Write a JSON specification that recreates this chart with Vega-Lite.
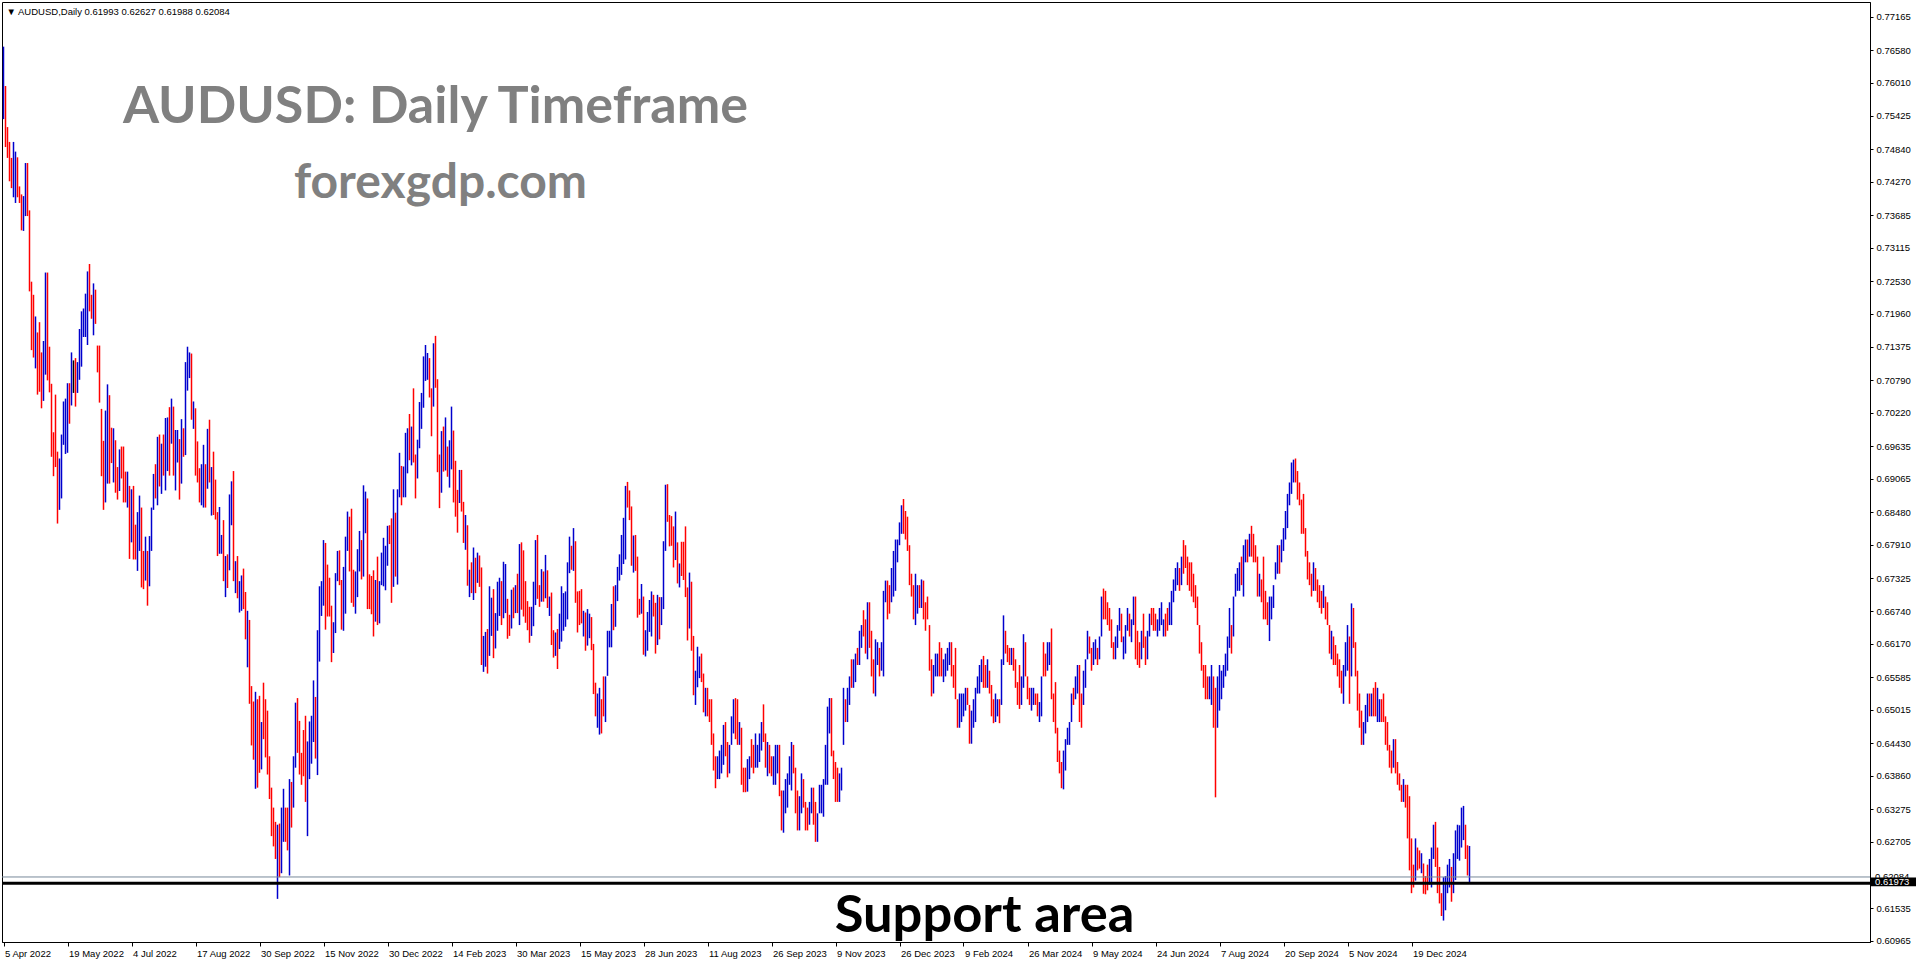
{
"$schema":"https://vega.github.io/schema/vega-lite/v6.json",
"width":1868,"height":940,
"autosize":{"type":"none"},
"padding":{"left":2,"top":2,"right":46,"bottom":22},
"background":"white",
"config":{"view":{"stroke":"#000000","strokeWidth":1},"axis":{"labelFont":"Liberation Sans","labelFontSize":9.5,"labelColor":"#000000","domainColor":"#000000","tickColor":"#000000","grid":false,"title":null,"labelOverlap":false}},
"resolve":{"axis":{"x":"independent","y":"independent"}},
"datasets":{
"bars":[
{"n":0,"o":0.7560,"h":0.7664,"l":0.7537,"c":0.7640},
{"n":1,"o":0.7590,"h":0.7595,"l":0.7488,"c":0.7495},
{"n":2,"o":0.7515,"h":0.7523,"l":0.7469,"c":0.7478},
{"n":3,"o":0.7490,"h":0.7497,"l":0.7428,"c":0.7435},
{"n":4,"o":0.7460,"h":0.7469,"l":0.7416,"c":0.7425},
{"n":5,"o":0.7410,"h":0.7497,"l":0.7400,"c":0.7490},
{"n":6,"o":0.7400,"h":0.7480,"l":0.7390,"c":0.7470},
{"n":7,"o":0.7465,"h":0.7470,"l":0.7400,"c":0.7405},
{"n":8,"o":0.7415,"h":0.7419,"l":0.7390,"c":0.7395},
{"n":9,"o":0.7400,"h":0.7405,"l":0.7342,"c":0.7348},
{"n":10,"o":0.7350,"h":0.7402,"l":0.7341,"c":0.7395},
{"n":11,"o":0.7375,"h":0.7460,"l":0.7367,"c":0.7452},
{"n":12,"o":0.7450,"h":0.7460,"l":0.7367,"c":0.7375},
{"n":13,"o":0.7370,"h":0.7377,"l":0.7235,"c":0.7242},
{"n":14,"o":0.7245,"h":0.7252,"l":0.7132,"c":0.7140},
{"n":15,"o":0.7220,"h":0.7229,"l":0.7119,"c":0.7125},
{"n":16,"o":0.7110,"h":0.7191,"l":0.7100,"c":0.7180},
{"n":17,"o":0.7155,"h":0.7163,"l":0.7054,"c":0.7060},
{"n":18,"o":0.7170,"h":0.7181,"l":0.7059,"c":0.7070},
{"n":19,"o":0.7120,"h":0.7128,"l":0.7030,"c":0.7036},
{"n":20,"o":0.7055,"h":0.7148,"l":0.7043,"c":0.7140},
{"n":21,"o":0.7098,"h":0.7268,"l":0.7089,"c":0.7260},
{"n":22,"o":0.7255,"h":0.7268,"l":0.7079,"c":0.7090},
{"n":23,"o":0.7130,"h":0.7138,"l":0.7058,"c":0.7064},
{"n":24,"o":0.7065,"h":0.7073,"l":0.6945,"c":0.6955},
{"n":25,"o":0.6980,"h":0.6988,"l":0.6911,"c":0.6918},
{"n":26,"o":0.7045,"h":0.7054,"l":0.6927,"c":0.6935},
{"n":27,"o":0.6946,"h":0.6954,"l":0.6828,"c":0.6836},
{"n":28,"o":0.6860,"h":0.6942,"l":0.6852,"c":0.6935},
{"n":29,"o":0.6880,"h":0.6984,"l":0.6872,"c":0.6976},
{"n":30,"o":0.6975,"h":0.7042,"l":0.6966,"c":0.7035},
{"n":31,"o":0.6958,"h":0.7047,"l":0.6950,"c":0.7040},
{"n":32,"o":0.6960,"h":0.7074,"l":0.6952,"c":0.7065},
{"n":33,"o":0.7066,"h":0.7074,"l":0.7003,"c":0.7010},
{"n":34,"o":0.7045,"h":0.7128,"l":0.7035,"c":0.7120},
{"n":35,"o":0.7085,"h":0.7114,"l":0.7057,"c":0.7085},
{"n":36,"o":0.7110,"h":0.7118,"l":0.7033,"c":0.7040},
{"n":37,"o":0.7064,"h":0.7111,"l":0.7057,"c":0.7104},
{"n":38,"o":0.7090,"h":0.7169,"l":0.7080,"c":0.7160},
{"n":39,"o":0.7110,"h":0.7200,"l":0.7103,"c":0.7192},
{"n":40,"o":0.7160,"h":0.7205,"l":0.7155,"c":0.7200},
{"n":41,"o":0.7162,"h":0.7231,"l":0.7155,"c":0.7224},
{"n":42,"o":0.7150,"h":0.7270,"l":0.7141,"c":0.7260},
{"n":43,"o":0.7276,"h":0.7283,"l":0.7200,"c":0.7206},
{"n":44,"o":0.7225,"h":0.7229,"l":0.7187,"c":0.7190},
{"n":45,"o":0.7165,"h":0.7249,"l":0.7158,"c":0.7242},
{"n":46,"o":0.7230,"h":0.7238,"l":0.7178,"c":0.7185},
{"n":47,"o":0.7135,"h":0.7140,"l":0.7093,"c":0.7098},
{"n":48,"o":0.7130,"h":0.7140,"l":0.7040,"c":0.7050},
{"n":49,"o":0.7020,"h":0.7029,"l":0.6911,"c":0.6918},
{"n":50,"o":0.6965,"h":0.6973,"l":0.6852,"c":0.6860},
{"n":51,"o":0.6874,"h":0.7026,"l":0.6865,"c":0.7018},
{"n":52,"o":0.6910,"h":0.7072,"l":0.6898,"c":0.7060},
{"n":53,"o":0.7045,"h":0.7053,"l":0.6898,"c":0.6905},
{"n":54,"o":0.6990,"h":0.6996,"l":0.6934,"c":0.6940},
{"n":55,"o":0.6908,"h":0.6995,"l":0.6900,"c":0.6988},
{"n":56,"o":0.6965,"h":0.6974,"l":0.6882,"c":0.6890},
{"n":57,"o":0.6922,"h":0.6927,"l":0.6870,"c":0.6876},
{"n":58,"o":0.6895,"h":0.6958,"l":0.6885,"c":0.6950},
{"n":59,"o":0.6958,"h":0.6963,"l":0.6907,"c":0.6912},
{"n":60,"o":0.6955,"h":0.6963,"l":0.6865,"c":0.6875},
{"n":61,"o":0.6914,"h":0.6919,"l":0.6865,"c":0.6870},
{"n":62,"o":0.6865,"h":0.6919,"l":0.6856,"c":0.6910},
{"n":63,"o":0.6888,"h":0.6894,"l":0.6766,"c":0.6772},
{"n":64,"o":0.6805,"h":0.6888,"l":0.6795,"c":0.6880},
{"n":65,"o":0.6886,"h":0.6894,"l":0.6765,"c":0.6772},
{"n":66,"o":0.6820,"h":0.6826,"l":0.6765,"c":0.6770},
{"n":67,"o":0.6752,"h":0.6848,"l":0.6745,"c":0.6840},
{"n":68,"o":0.6790,"h":0.6877,"l":0.6780,"c":0.6870},
{"n":69,"o":0.6848,"h":0.6856,"l":0.6716,"c":0.6722},
{"n":70,"o":0.6775,"h":0.6780,"l":0.6713,"c":0.6720},
{"n":71,"o":0.6735,"h":0.6805,"l":0.6728,"c":0.6798},
{"n":72,"o":0.6770,"h":0.6780,"l":0.6684,"c":0.6695},
{"n":73,"o":0.6725,"h":0.6806,"l":0.6718,"c":0.6800},
{"n":74,"o":0.6785,"h":0.6856,"l":0.6780,"c":0.6850},
{"n":75,"o":0.6858,"h":0.6915,"l":0.6852,"c":0.6908},
{"n":76,"o":0.6925,"h":0.6932,"l":0.6872,"c":0.6880},
{"n":77,"o":0.6868,"h":0.6980,"l":0.6860,"c":0.6972},
{"n":78,"o":0.6975,"h":0.6984,"l":0.6893,"c":0.6900},
{"n":79,"o":0.6888,"h":0.6968,"l":0.6880,"c":0.6960},
{"n":80,"o":0.6978,"h":0.6984,"l":0.6912,"c":0.6920},
{"n":81,"o":0.6895,"h":0.7013,"l":0.6886,"c":0.7005},
{"n":82,"o":0.6930,"h":0.7014,"l":0.6920,"c":0.7005},
{"n":83,"o":0.7025,"h":0.7032,"l":0.6912,"c":0.6920},
{"n":84,"o":0.6975,"h":0.7047,"l":0.6968,"c":0.7040},
{"n":85,"o":0.7025,"h":0.7033,"l":0.6912,"c":0.6920},
{"n":86,"o":0.6895,"h":0.6992,"l":0.6886,"c":0.6985},
{"n":87,"o":0.6940,"h":0.6992,"l":0.6935,"c":0.6986},
{"n":88,"o":0.6970,"h":0.6976,"l":0.6870,"c":0.6880},
{"n":89,"o":0.6905,"h":0.7011,"l":0.6898,"c":0.7004},
{"n":90,"o":0.6990,"h":0.6995,"l":0.6945,"c":0.6950},
{"n":91,"o":0.6956,"h":0.7111,"l":0.6948,"c":0.7104},
{"n":92,"o":0.7070,"h":0.7138,"l":0.7061,"c":0.7130},
{"n":93,"o":0.7088,"h":0.7128,"l":0.7083,"c":0.7122},
{"n":94,"o":0.7120,"h":0.7126,"l":0.7010,"c":0.7020},
{"n":95,"o":0.7000,"h":0.7042,"l":0.6994,"c":0.7036},
{"n":96,"o":0.7020,"h":0.7030,"l":0.6912,"c":0.6920},
{"n":97,"o":0.6966,"h":0.6972,"l":0.6900,"c":0.6906},
{"n":98,"o":0.6920,"h":0.6925,"l":0.6865,"c":0.6870},
{"n":99,"o":0.6866,"h":0.6932,"l":0.6860,"c":0.6926},
{"n":100,"o":0.6865,"h":0.6966,"l":0.6856,"c":0.6960},
{"n":101,"o":0.6926,"h":0.6932,"l":0.6856,"c":0.6862},
{"n":102,"o":0.6900,"h":0.6994,"l":0.6889,"c":0.6985},
{"n":103,"o":0.7002,"h":0.7010,"l":0.6900,"c":0.6906},
{"n":104,"o":0.6850,"h":0.6927,"l":0.6842,"c":0.6920},
{"n":105,"o":0.6946,"h":0.6954,"l":0.6843,"c":0.6850},
{"n":106,"o":0.6900,"h":0.6905,"l":0.6835,"c":0.6840},
{"n":107,"o":0.6842,"h":0.6848,"l":0.6771,"c":0.6778},
{"n":108,"o":0.6785,"h":0.6857,"l":0.6775,"c":0.6850},
{"n":109,"o":0.6778,"h":0.6808,"l":0.6775,"c":0.6804},
{"n":110,"o":0.6825,"h":0.6834,"l":0.6727,"c":0.6735},
{"n":111,"o":0.6705,"h":0.6771,"l":0.6699,"c":0.6765},
{"n":112,"o":0.6770,"h":0.6774,"l":0.6715,"c":0.6720},
{"n":113,"o":0.6754,"h":0.6879,"l":0.6746,"c":0.6872},
{"n":114,"o":0.6830,"h":0.6902,"l":0.6825,"c":0.6895},
{"n":115,"o":0.6912,"h":0.6920,"l":0.6727,"c":0.6735},
{"n":116,"o":0.6712,"h":0.6762,"l":0.6706,"c":0.6755},
{"n":117,"o":0.6765,"h":0.6771,"l":0.6697,"c":0.6703},
{"n":118,"o":0.6678,"h":0.6727,"l":0.6672,"c":0.6720},
{"n":119,"o":0.6680,"h":0.6737,"l":0.6675,"c":0.6731},
{"n":120,"o":0.6745,"h":0.6749,"l":0.6678,"c":0.6685},
{"n":121,"o":0.6702,"h":0.6708,"l":0.6625,"c":0.6632},
{"n":122,"o":0.6585,"h":0.6675,"l":0.6576,"c":0.6668},
{"n":123,"o":0.6652,"h":0.6659,"l":0.6512,"c":0.6520},
{"n":124,"o":0.6535,"h":0.6543,"l":0.6439,"c":0.6450},
{"n":125,"o":0.6510,"h":0.6516,"l":0.6414,"c":0.6420},
{"n":126,"o":0.6380,"h":0.6533,"l":0.6363,"c":0.6520},
{"n":127,"o":0.6512,"h":0.6520,"l":0.6365,"c":0.6372},
{"n":128,"o":0.6515,"h":0.6526,"l":0.6391,"c":0.6400},
{"n":129,"o":0.6404,"h":0.6480,"l":0.6397,"c":0.6472},
{"n":130,"o":0.6540,"h":0.6549,"l":0.6450,"c":0.6460},
{"n":131,"o":0.6512,"h":0.6520,"l":0.6418,"c":0.6425},
{"n":132,"o":0.6490,"h":0.6500,"l":0.6388,"c":0.6395},
{"n":133,"o":0.6414,"h":0.6420,"l":0.6345,"c":0.6352},
{"n":134,"o":0.6360,"h":0.6365,"l":0.6280,"c":0.6285},
{"n":135,"o":0.6324,"h":0.6330,"l":0.6262,"c":0.6268},
{"n":136,"o":0.6300,"h":0.6305,"l":0.6240,"c":0.6245},
{"n":137,"o":0.6185,"h":0.6300,"l":0.6170,"c":0.6290},
{"n":138,"o":0.6295,"h":0.6302,"l":0.6208,"c":0.6215},
{"n":139,"o":0.6222,"h":0.6330,"l":0.6215,"c":0.6322},
{"n":140,"o":0.6280,"h":0.6363,"l":0.6270,"c":0.6355},
{"n":141,"o":0.6325,"h":0.6330,"l":0.6270,"c":0.6276},
{"n":142,"o":0.6325,"h":0.6330,"l":0.6255,"c":0.6260},
{"n":143,"o":0.6220,"h":0.6380,"l":0.6211,"c":0.6370},
{"n":144,"o":0.6370,"h":0.6375,"l":0.6295,"c":0.6300},
{"n":145,"o":0.6338,"h":0.6420,"l":0.6330,"c":0.6412},
{"n":146,"o":0.6410,"h":0.6514,"l":0.6400,"c":0.6505},
{"n":147,"o":0.6515,"h":0.6522,"l":0.6426,"c":0.6432},
{"n":148,"o":0.6475,"h":0.6482,"l":0.6388,"c":0.6395},
{"n":149,"o":0.6420,"h":0.6426,"l":0.6370,"c":0.6376},
{"n":150,"o":0.6460,"h":0.6466,"l":0.6385,"c":0.6390},
{"n":151,"o":0.6484,"h":0.6491,"l":0.6340,"c":0.6346},
{"n":152,"o":0.6290,"h":0.6446,"l":0.6280,"c":0.6440},
{"n":153,"o":0.6388,"h":0.6481,"l":0.6380,"c":0.6474},
{"n":154,"o":0.6415,"h":0.6491,"l":0.6407,"c":0.6485},
{"n":155,"o":0.6452,"h":0.6553,"l":0.6445,"c":0.6546},
{"n":156,"o":0.6518,"h":0.6524,"l":0.6416,"c":0.6422},
{"n":157,"o":0.6395,"h":0.6641,"l":0.6387,"c":0.6632},
{"n":158,"o":0.6595,"h":0.6718,"l":0.6586,"c":0.6710},
{"n":159,"o":0.6672,"h":0.6727,"l":0.6666,"c":0.6720},
{"n":160,"o":0.6690,"h":0.6799,"l":0.6684,"c":0.6790},
{"n":161,"o":0.6785,"h":0.6794,"l":0.6642,"c":0.6650},
{"n":162,"o":0.6750,"h":0.6756,"l":0.6665,"c":0.6672},
{"n":163,"o":0.6728,"h":0.6733,"l":0.6665,"c":0.6670},
{"n":164,"o":0.6678,"h":0.6684,"l":0.6585,"c":0.6592},
{"n":165,"o":0.6606,"h":0.6655,"l":0.6601,"c":0.6650},
{"n":166,"o":0.6644,"h":0.6741,"l":0.6636,"c":0.6734},
{"n":167,"o":0.6730,"h":0.6780,"l":0.6727,"c":0.6775},
{"n":168,"o":0.6776,"h":0.6781,"l":0.6720,"c":0.6726},
{"n":169,"o":0.6722,"h":0.6729,"l":0.6642,"c":0.6650},
{"n":170,"o":0.6648,"h":0.6752,"l":0.6640,"c":0.6745},
{"n":171,"o":0.6680,"h":0.6805,"l":0.6670,"c":0.6800},
{"n":172,"o":0.6786,"h":0.6849,"l":0.6780,"c":0.6842},
{"n":173,"o":0.6834,"h":0.6840,"l":0.6744,"c":0.6750},
{"n":174,"o":0.6846,"h":0.6854,"l":0.6689,"c":0.6696},
{"n":175,"o":0.6740,"h":0.6747,"l":0.6682,"c":0.6690},
{"n":176,"o":0.6676,"h":0.6744,"l":0.6670,"c":0.6738},
{"n":177,"o":0.6705,"h":0.6783,"l":0.6699,"c":0.6775},
{"n":178,"o":0.6750,"h":0.6815,"l":0.6744,"c":0.6808},
{"n":179,"o":0.6792,"h":0.6799,"l":0.6730,"c":0.6736},
{"n":180,"o":0.6742,"h":0.6895,"l":0.6735,"c":0.6886},
{"n":181,"o":0.6818,"h":0.6884,"l":0.6811,"c":0.6878},
{"n":182,"o":0.6865,"h":0.6872,"l":0.6678,"c":0.6686},
{"n":183,"o":0.6735,"h":0.6739,"l":0.6678,"c":0.6685},
{"n":184,"o":0.6730,"h":0.6736,"l":0.6669,"c":0.6675},
{"n":185,"o":0.6740,"h":0.6746,"l":0.6630,"c":0.6640},
{"n":186,"o":0.6662,"h":0.6729,"l":0.6656,"c":0.6722},
{"n":187,"o":0.6760,"h":0.6770,"l":0.6650,"c":0.6660},
{"n":188,"o":0.6660,"h":0.6727,"l":0.6653,"c":0.6720},
{"n":189,"o":0.6725,"h":0.6777,"l":0.6720,"c":0.6770},
{"n":190,"o":0.6725,"h":0.6803,"l":0.6718,"c":0.6795},
{"n":191,"o":0.6718,"h":0.6789,"l":0.6711,"c":0.6782},
{"n":192,"o":0.6760,"h":0.6824,"l":0.6754,"c":0.6818},
{"n":193,"o":0.6822,"h":0.6825,"l":0.6792,"c":0.6796},
{"n":194,"o":0.6830,"h":0.6837,"l":0.6689,"c":0.6696},
{"n":195,"o":0.6725,"h":0.6888,"l":0.6717,"c":0.6880},
{"n":196,"o":0.6840,"h":0.6847,"l":0.6735,"c":0.6742},
{"n":197,"o":0.6730,"h":0.6888,"l":0.6721,"c":0.6880},
{"n":198,"o":0.6880,"h":0.6952,"l":0.6874,"c":0.6945},
{"n":199,"o":0.6922,"h":0.6929,"l":0.6860,"c":0.6866},
{"n":200,"o":0.6880,"h":0.6928,"l":0.6874,"c":0.6922},
{"n":201,"o":0.6885,"h":0.6987,"l":0.6874,"c":0.6980},
{"n":202,"o":0.6922,"h":0.6995,"l":0.6916,"c":0.6988},
{"n":203,"o":0.7012,"h":0.7020,"l":0.6939,"c":0.6945},
{"n":204,"o":0.6936,"h":0.6998,"l":0.6930,"c":0.6992},
{"n":205,"o":0.7055,"h":0.7065,"l":0.6935,"c":0.6945},
{"n":206,"o":0.6942,"h":0.6949,"l":0.6872,"c":0.6878},
{"n":207,"o":0.6912,"h":0.6975,"l":0.6907,"c":0.6970},
{"n":208,"o":0.6968,"h":0.7041,"l":0.6960,"c":0.7034},
{"n":209,"o":0.7000,"h":0.7057,"l":0.6994,"c":0.7050},
{"n":210,"o":0.7040,"h":0.7121,"l":0.7031,"c":0.7114},
{"n":211,"o":0.7085,"h":0.7141,"l":0.7078,"c":0.7135},
{"n":212,"o":0.7085,"h":0.7127,"l":0.7080,"c":0.7122},
{"n":213,"o":0.7110,"h":0.7118,"l":0.7049,"c":0.7055},
{"n":214,"o":0.7058,"h":0.7065,"l":0.6981,"c":0.6988},
{"n":215,"o":0.7040,"h":0.7144,"l":0.7033,"c":0.7138},
{"n":216,"o":0.7150,"h":0.7157,"l":0.7066,"c":0.7072},
{"n":217,"o":0.7072,"h":0.7081,"l":0.6918,"c":0.6926},
{"n":218,"o":0.6942,"h":0.6949,"l":0.6855,"c":0.6862},
{"n":219,"o":0.6890,"h":0.6990,"l":0.6882,"c":0.6982},
{"n":220,"o":0.6990,"h":0.6998,"l":0.6919,"c":0.6925},
{"n":221,"o":0.6930,"h":0.7014,"l":0.6921,"c":0.7006},
{"n":222,"o":0.6958,"h":0.6963,"l":0.6910,"c":0.6915},
{"n":223,"o":0.6898,"h":0.6974,"l":0.6891,"c":0.6966},
{"n":224,"o":0.6930,"h":0.7033,"l":0.6923,"c":0.7025},
{"n":225,"o":0.6984,"h":0.6991,"l":0.6865,"c":0.6872},
{"n":226,"o":0.6930,"h":0.6938,"l":0.6840,"c":0.6850},
{"n":227,"o":0.6880,"h":0.6887,"l":0.6812,"c":0.6818},
{"n":228,"o":0.6870,"h":0.6922,"l":0.6864,"c":0.6915},
{"n":229,"o":0.6915,"h":0.6922,"l":0.6849,"c":0.6855},
{"n":230,"o":0.6860,"h":0.6866,"l":0.6794,"c":0.6800},
{"n":231,"o":0.6788,"h":0.6843,"l":0.6782,"c":0.6836},
{"n":232,"o":0.6815,"h":0.6825,"l":0.6719,"c":0.6725},
{"n":233,"o":0.6704,"h":0.6747,"l":0.6699,"c":0.6742},
{"n":234,"o":0.6755,"h":0.6760,"l":0.6706,"c":0.6712},
{"n":235,"o":0.6700,"h":0.6786,"l":0.6694,"c":0.6780},
{"n":236,"o":0.6762,"h":0.6768,"l":0.6706,"c":0.6712},
{"n":237,"o":0.6730,"h":0.6777,"l":0.6724,"c":0.6772},
{"n":238,"o":0.6768,"h":0.6772,"l":0.6717,"c":0.6722},
{"n":239,"o":0.6745,"h":0.6751,"l":0.6580,"c":0.6588},
{"n":240,"o":0.6574,"h":0.6631,"l":0.6568,"c":0.6625},
{"n":241,"o":0.6582,"h":0.6638,"l":0.6577,"c":0.6632},
{"n":242,"o":0.6635,"h":0.6643,"l":0.6565,"c":0.6572},
{"n":243,"o":0.6604,"h":0.6718,"l":0.6596,"c":0.6710},
{"n":244,"o":0.6638,"h":0.6698,"l":0.6631,"c":0.6692},
{"n":245,"o":0.6705,"h":0.6713,"l":0.6592,"c":0.6600},
{"n":246,"o":0.6615,"h":0.6671,"l":0.6609,"c":0.6665},
{"n":247,"o":0.6646,"h":0.6726,"l":0.6640,"c":0.6720},
{"n":248,"o":0.6672,"h":0.6733,"l":0.6666,"c":0.6728},
{"n":249,"o":0.6720,"h":0.6727,"l":0.6650,"c":0.6656},
{"n":250,"o":0.6668,"h":0.6761,"l":0.6662,"c":0.6755},
{"n":251,"o":0.6678,"h":0.6757,"l":0.6671,"c":0.6750},
{"n":252,"o":0.6690,"h":0.6696,"l":0.6626,"c":0.6632},
{"n":253,"o":0.6665,"h":0.6668,"l":0.6631,"c":0.6635},
{"n":254,"o":0.6650,"h":0.6712,"l":0.6644,"c":0.6705},
{"n":255,"o":0.6710,"h":0.6716,"l":0.6662,"c":0.6668},
{"n":256,"o":0.6676,"h":0.6720,"l":0.6671,"c":0.6715},
{"n":257,"o":0.6734,"h":0.6740,"l":0.6671,"c":0.6676},
{"n":258,"o":0.6660,"h":0.6792,"l":0.6650,"c":0.6785},
{"n":259,"o":0.6788,"h":0.6795,"l":0.6677,"c":0.6684},
{"n":260,"o":0.6775,"h":0.6781,"l":0.6665,"c":0.6672},
{"n":261,"o":0.6720,"h":0.6727,"l":0.6654,"c":0.6660},
{"n":262,"o":0.6688,"h":0.6692,"l":0.6641,"c":0.6646},
{"n":263,"o":0.6676,"h":0.6682,"l":0.6619,"c":0.6625},
{"n":264,"o":0.6636,"h":0.6682,"l":0.6631,"c":0.6676},
{"n":265,"o":0.6654,"h":0.6726,"l":0.6648,"c":0.6720},
{"n":266,"o":0.6690,"h":0.6799,"l":0.6685,"c":0.6792},
{"n":267,"o":0.6800,"h":0.6808,"l":0.6696,"c":0.6702},
{"n":268,"o":0.6716,"h":0.6720,"l":0.6682,"c":0.6686},
{"n":269,"o":0.6696,"h":0.6748,"l":0.6691,"c":0.6742},
{"n":270,"o":0.6740,"h":0.6744,"l":0.6691,"c":0.6696},
{"n":271,"o":0.6702,"h":0.6773,"l":0.6697,"c":0.6768},
{"n":272,"o":0.6740,"h":0.6746,"l":0.6680,"c":0.6686},
{"n":273,"o":0.6670,"h":0.6700,"l":0.6666,"c":0.6696},
{"n":274,"o":0.6700,"h":0.6707,"l":0.6615,"c":0.6620},
{"n":275,"o":0.6636,"h":0.6641,"l":0.6593,"c":0.6598},
{"n":276,"o":0.6600,"h":0.6637,"l":0.6596,"c":0.6632},
{"n":277,"o":0.6638,"h":0.6643,"l":0.6573,"c":0.6578},
{"n":278,"o":0.6614,"h":0.6670,"l":0.6608,"c":0.6665},
{"n":279,"o":0.6628,"h":0.6718,"l":0.6621,"c":0.6712},
{"n":280,"o":0.6646,"h":0.6706,"l":0.6640,"c":0.6700},
{"n":281,"o":0.6652,"h":0.6709,"l":0.6647,"c":0.6703},
{"n":282,"o":0.6666,"h":0.6760,"l":0.6660,"c":0.6754},
{"n":283,"o":0.6746,"h":0.6805,"l":0.6741,"c":0.6800},
{"n":284,"o":0.6785,"h":0.6789,"l":0.6747,"c":0.6750},
{"n":285,"o":0.6750,"h":0.6820,"l":0.6745,"c":0.6814},
{"n":286,"o":0.6790,"h":0.6797,"l":0.6689,"c":0.6695},
{"n":287,"o":0.6704,"h":0.6709,"l":0.6637,"c":0.6642},
{"n":288,"o":0.6705,"h":0.6710,"l":0.6650,"c":0.6655},
{"n":289,"o":0.6708,"h":0.6713,"l":0.6653,"c":0.6658},
{"n":290,"o":0.6634,"h":0.6675,"l":0.6630,"c":0.6670},
{"n":291,"o":0.6667,"h":0.6672,"l":0.6605,"c":0.6610},
{"n":292,"o":0.6618,"h":0.6678,"l":0.6614,"c":0.6672},
{"n":293,"o":0.6630,"h":0.6670,"l":0.6627,"c":0.6666},
{"n":294,"o":0.6660,"h":0.6664,"l":0.6606,"c":0.6610},
{"n":295,"o":0.6612,"h":0.6617,"l":0.6529,"c":0.6534},
{"n":296,"o":0.6545,"h":0.6549,"l":0.6490,"c":0.6495},
{"n":297,"o":0.6475,"h":0.6530,"l":0.6470,"c":0.6525},
{"n":298,"o":0.6465,"h":0.6540,"l":0.6458,"c":0.6535},
{"n":299,"o":0.6515,"h":0.6520,"l":0.6460,"c":0.6465},
{"n":300,"o":0.6555,"h":0.6560,"l":0.6490,"c":0.6495},
{"n":301,"o":0.6486,"h":0.6560,"l":0.6480,"c":0.6555},
{"n":302,"o":0.6568,"h":0.6640,"l":0.6561,"c":0.6635},
{"n":303,"o":0.6614,"h":0.6640,"l":0.6611,"c":0.6636},
{"n":304,"o":0.6618,"h":0.6687,"l":0.6611,"c":0.6680},
{"n":305,"o":0.6712,"h":0.6718,"l":0.6641,"c":0.6646},
{"n":306,"o":0.6652,"h":0.6720,"l":0.6647,"c":0.6714},
{"n":307,"o":0.6698,"h":0.6752,"l":0.6692,"c":0.6746},
{"n":308,"o":0.6732,"h":0.6774,"l":0.6728,"c":0.6768},
{"n":309,"o":0.6744,"h":0.6808,"l":0.6738,"c":0.6802},
{"n":310,"o":0.6762,"h":0.6838,"l":0.6757,"c":0.6830},
{"n":311,"o":0.6772,"h":0.6894,"l":0.6765,"c":0.6886},
{"n":312,"o":0.6897,"h":0.6901,"l":0.6856,"c":0.6860},
{"n":313,"o":0.6880,"h":0.6886,"l":0.6834,"c":0.6838},
{"n":314,"o":0.6852,"h":0.6858,"l":0.6754,"c":0.6760},
{"n":315,"o":0.6748,"h":0.6807,"l":0.6742,"c":0.6800},
{"n":316,"o":0.6802,"h":0.6808,"l":0.6745,"c":0.6750},
{"n":317,"o":0.6765,"h":0.6770,"l":0.6663,"c":0.6670},
{"n":318,"o":0.6692,"h":0.6696,"l":0.6668,"c":0.6672},
{"n":319,"o":0.6675,"h":0.6722,"l":0.6670,"c":0.6716},
{"n":320,"o":0.6695,"h":0.6700,"l":0.6598,"c":0.6604},
{"n":321,"o":0.6600,"h":0.6641,"l":0.6595,"c":0.6636},
{"n":322,"o":0.6610,"h":0.6673,"l":0.6605,"c":0.6668},
{"n":323,"o":0.6642,"h":0.6694,"l":0.6638,"c":0.6690},
{"n":324,"o":0.6636,"h":0.6709,"l":0.6630,"c":0.6702},
{"n":325,"o":0.6698,"h":0.6703,"l":0.6665,"c":0.6670},
{"n":326,"o":0.6684,"h":0.6689,"l":0.6600,"c":0.6606},
{"n":327,"o":0.6620,"h":0.6703,"l":0.6615,"c":0.6698},
{"n":328,"o":0.6694,"h":0.6699,"l":0.6625,"c":0.6630},
{"n":329,"o":0.6655,"h":0.6699,"l":0.6650,"c":0.6694},
{"n":330,"o":0.6684,"h":0.6797,"l":0.6678,"c":0.6790},
{"n":331,"o":0.6786,"h":0.6896,"l":0.6780,"c":0.6890},
{"n":332,"o":0.6892,"h":0.6897,"l":0.6831,"c":0.6836},
{"n":333,"o":0.6838,"h":0.6843,"l":0.6788,"c":0.6792},
{"n":334,"o":0.6836,"h":0.6841,"l":0.6789,"c":0.6794},
{"n":335,"o":0.6818,"h":0.6823,"l":0.6751,"c":0.6756},
{"n":336,"o":0.6770,"h":0.6849,"l":0.6764,"c":0.6842},
{"n":337,"o":0.6790,"h":0.6795,"l":0.6723,"c":0.6728},
{"n":338,"o":0.6720,"h":0.6758,"l":0.6716,"c":0.6754},
{"n":339,"o":0.6790,"h":0.6796,"l":0.6736,"c":0.6740},
{"n":340,"o":0.6790,"h":0.6796,"l":0.6729,"c":0.6734},
{"n":341,"o":0.6815,"h":0.6823,"l":0.6699,"c":0.6705},
{"n":342,"o":0.6710,"h":0.6716,"l":0.6623,"c":0.6628},
{"n":343,"o":0.6650,"h":0.6742,"l":0.6644,"c":0.6736},
{"n":344,"o":0.6720,"h":0.6726,"l":0.6605,"c":0.6612},
{"n":345,"o":0.6625,"h":0.6631,"l":0.6527,"c":0.6533},
{"n":346,"o":0.6516,"h":0.6570,"l":0.6510,"c":0.6565},
{"n":347,"o":0.6548,"h":0.6612,"l":0.6541,"c":0.6606},
{"n":348,"o":0.6560,"h":0.6595,"l":0.6557,"c":0.6590},
{"n":349,"o":0.6596,"h":0.6600,"l":0.6550,"c":0.6554},
{"n":350,"o":0.6560,"h":0.6565,"l":0.6497,"c":0.6502},
{"n":351,"o":0.6494,"h":0.6540,"l":0.6490,"c":0.6536},
{"n":352,"o":0.6535,"h":0.6540,"l":0.6490,"c":0.6495},
{"n":353,"o":0.6516,"h":0.6520,"l":0.6480,"c":0.6484},
{"n":354,"o":0.6515,"h":0.6520,"l":0.6440,"c":0.6446},
{"n":355,"o":0.6455,"h":0.6460,"l":0.6395,"c":0.6400},
{"n":356,"o":0.6415,"h":0.6420,"l":0.6364,"c":0.6370},
{"n":357,"o":0.6384,"h":0.6420,"l":0.6380,"c":0.6416},
{"n":358,"o":0.6385,"h":0.6430,"l":0.6380,"c":0.6425},
{"n":359,"o":0.6394,"h":0.6440,"l":0.6390,"c":0.6436},
{"n":360,"o":0.6410,"h":0.6475,"l":0.6405,"c":0.6470},
{"n":361,"o":0.6476,"h":0.6480,"l":0.6420,"c":0.6424},
{"n":362,"o":0.6440,"h":0.6445,"l":0.6383,"c":0.6388},
{"n":363,"o":0.6394,"h":0.6440,"l":0.6390,"c":0.6436},
{"n":364,"o":0.6445,"h":0.6490,"l":0.6440,"c":0.6485},
{"n":365,"o":0.6464,"h":0.6520,"l":0.6460,"c":0.6516},
{"n":366,"o":0.6515,"h":0.6522,"l":0.6450,"c":0.6455},
{"n":367,"o":0.6516,"h":0.6520,"l":0.6440,"c":0.6444},
{"n":368,"o":0.6445,"h":0.6480,"l":0.6440,"c":0.6476},
{"n":369,"o":0.6466,"h":0.6470,"l":0.6370,"c":0.6374},
{"n":370,"o":0.6396,"h":0.6400,"l":0.6357,"c":0.6362},
{"n":371,"o":0.6396,"h":0.6400,"l":0.6357,"c":0.6360},
{"n":372,"o":0.6362,"h":0.6415,"l":0.6358,"c":0.6410},
{"n":373,"o":0.6384,"h":0.6420,"l":0.6380,"c":0.6416},
{"n":374,"o":0.6446,"h":0.6450,"l":0.6400,"c":0.6404},
{"n":375,"o":0.6436,"h":0.6440,"l":0.6390,"c":0.6394},
{"n":376,"o":0.6405,"h":0.6460,"l":0.6400,"c":0.6455},
{"n":377,"o":0.6404,"h":0.6440,"l":0.6400,"c":0.6436},
{"n":378,"o":0.6415,"h":0.6460,"l":0.6410,"c":0.6456},
{"n":379,"o":0.6434,"h":0.6480,"l":0.6430,"c":0.6476},
{"n":380,"o":0.6505,"h":0.6511,"l":0.6445,"c":0.6450},
{"n":381,"o":0.6456,"h":0.6460,"l":0.6400,"c":0.6404},
{"n":382,"o":0.6390,"h":0.6445,"l":0.6385,"c":0.6440},
{"n":383,"o":0.6436,"h":0.6440,"l":0.6390,"c":0.6394},
{"n":384,"o":0.6416,"h":0.6420,"l":0.6385,"c":0.6388},
{"n":385,"o":0.6374,"h":0.6420,"l":0.6370,"c":0.6416},
{"n":386,"o":0.6375,"h":0.6440,"l":0.6370,"c":0.6435},
{"n":387,"o":0.6394,"h":0.6440,"l":0.6390,"c":0.6436},
{"n":388,"o":0.6435,"h":0.6440,"l":0.6350,"c":0.6355},
{"n":389,"o":0.6356,"h":0.6360,"l":0.6290,"c":0.6294},
{"n":390,"o":0.6292,"h":0.6360,"l":0.6286,"c":0.6355},
{"n":391,"o":0.6324,"h":0.6380,"l":0.6320,"c":0.6376},
{"n":392,"o":0.6335,"h":0.6390,"l":0.6330,"c":0.6385},
{"n":393,"o":0.6374,"h":0.6420,"l":0.6370,"c":0.6416},
{"n":394,"o":0.6365,"h":0.6445,"l":0.6360,"c":0.6440},
{"n":395,"o":0.6436,"h":0.6440,"l":0.6390,"c":0.6394},
{"n":396,"o":0.6395,"h":0.6400,"l":0.6320,"c":0.6325},
{"n":397,"o":0.6356,"h":0.6360,"l":0.6290,"c":0.6294},
{"n":398,"o":0.6295,"h":0.6350,"l":0.6290,"c":0.6345},
{"n":399,"o":0.6324,"h":0.6390,"l":0.6320,"c":0.6386},
{"n":400,"o":0.6376,"h":0.6380,"l":0.6330,"c":0.6334},
{"n":401,"o":0.6336,"h":0.6340,"l":0.6290,"c":0.6294},
{"n":402,"o":0.6326,"h":0.6330,"l":0.6290,"c":0.6294},
{"n":403,"o":0.6304,"h":0.6340,"l":0.6300,"c":0.6336},
{"n":404,"o":0.6324,"h":0.6365,"l":0.6320,"c":0.6360},
{"n":405,"o":0.6360,"h":0.6365,"l":0.6300,"c":0.6304},
{"n":406,"o":0.6335,"h":0.6340,"l":0.6270,"c":0.6276},
{"n":407,"o":0.6274,"h":0.6320,"l":0.6270,"c":0.6316},
{"n":408,"o":0.6324,"h":0.6370,"l":0.6320,"c":0.6366},
{"n":409,"o":0.6324,"h":0.6370,"l":0.6320,"c":0.6366},
{"n":410,"o":0.6318,"h":0.6380,"l":0.6314,"c":0.6375},
{"n":411,"o":0.6374,"h":0.6440,"l":0.6370,"c":0.6436},
{"n":412,"o":0.6378,"h":0.6507,"l":0.6370,"c":0.6500},
{"n":413,"o":0.6464,"h":0.6522,"l":0.6460,"c":0.6518},
{"n":414,"o":0.6515,"h":0.6522,"l":0.6420,"c":0.6426},
{"n":415,"o":0.6426,"h":0.6430,"l":0.6380,"c":0.6384},
{"n":416,"o":0.6405,"h":0.6410,"l":0.6340,"c":0.6345},
{"n":417,"o":0.6396,"h":0.6400,"l":0.6340,"c":0.6344},
{"n":418,"o":0.6344,"h":0.6390,"l":0.6340,"c":0.6386},
{"n":419,"o":0.6364,"h":0.6400,"l":0.6360,"c":0.6396},
{"n":420,"o":0.6450,"h":0.6540,"l":0.6440,"c":0.6530},
{"n":421,"o":0.6516,"h":0.6520,"l":0.6480,"c":0.6484},
{"n":422,"o":0.6485,"h":0.6540,"l":0.6480,"c":0.6535},
{"n":423,"o":0.6514,"h":0.6560,"l":0.6510,"c":0.6556},
{"n":424,"o":0.6585,"h":0.6590,"l":0.6540,"c":0.6545},
{"n":425,"o":0.6544,"h":0.6590,"l":0.6540,"c":0.6586},
{"n":426,"o":0.6555,"h":0.6600,"l":0.6550,"c":0.6596},
{"n":427,"o":0.6606,"h":0.6610,"l":0.6580,"c":0.6584},
{"n":428,"o":0.6585,"h":0.6640,"l":0.6580,"c":0.6635},
{"n":429,"o":0.6614,"h":0.6650,"l":0.6610,"c":0.6646},
{"n":430,"o":0.6672,"h":0.6676,"l":0.6630,"c":0.6634},
{"n":431,"o":0.6656,"h":0.6660,"l":0.6600,"c":0.6604},
{"n":432,"o":0.6598,"h":0.6690,"l":0.6590,"c":0.6684},
{"n":433,"o":0.6686,"h":0.6690,"l":0.6610,"c":0.6614},
{"n":434,"o":0.6635,"h":0.6640,"l":0.6560,"c":0.6565},
{"n":435,"o":0.6586,"h":0.6590,"l":0.6530,"c":0.6534},
{"n":436,"o":0.6532,"h":0.6625,"l":0.6525,"c":0.6620},
{"n":437,"o":0.6584,"h":0.6620,"l":0.6580,"c":0.6616},
{"n":438,"o":0.6605,"h":0.6610,"l":0.6560,"c":0.6565},
{"n":439,"o":0.6574,"h":0.6620,"l":0.6570,"c":0.6616},
{"n":440,"o":0.6568,"h":0.6710,"l":0.6560,"c":0.6705},
{"n":441,"o":0.6694,"h":0.6728,"l":0.6690,"c":0.6724},
{"n":442,"o":0.6722,"h":0.6728,"l":0.6660,"c":0.6665},
{"n":443,"o":0.6716,"h":0.6720,"l":0.6670,"c":0.6674},
{"n":444,"o":0.6695,"h":0.6750,"l":0.6690,"c":0.6745},
{"n":445,"o":0.6704,"h":0.6780,"l":0.6700,"c":0.6776},
{"n":446,"o":0.6716,"h":0.6800,"l":0.6710,"c":0.6795},
{"n":447,"o":0.6764,"h":0.6800,"l":0.6760,"c":0.6796},
{"n":448,"o":0.6794,"h":0.6830,"l":0.6790,"c":0.6826},
{"n":449,"o":0.6814,"h":0.6860,"l":0.6810,"c":0.6856},
{"n":450,"o":0.6865,"h":0.6871,"l":0.6810,"c":0.6815},
{"n":451,"o":0.6846,"h":0.6850,"l":0.6800,"c":0.6804},
{"n":452,"o":0.6835,"h":0.6840,"l":0.6780,"c":0.6785},
{"n":453,"o":0.6786,"h":0.6790,"l":0.6720,"c":0.6724},
{"n":454,"o":0.6736,"h":0.6740,"l":0.6700,"c":0.6704},
{"n":455,"o":0.6716,"h":0.6720,"l":0.6660,"c":0.6664},
{"n":456,"o":0.6658,"h":0.6740,"l":0.6650,"c":0.6735},
{"n":457,"o":0.6674,"h":0.6720,"l":0.6670,"c":0.6716},
{"n":458,"o":0.6716,"h":0.6720,"l":0.6680,"c":0.6684},
{"n":459,"o":0.6684,"h":0.6730,"l":0.6680,"c":0.6726},
{"n":460,"o":0.6722,"h":0.6728,"l":0.6660,"c":0.6665},
{"n":461,"o":0.6686,"h":0.6690,"l":0.6640,"c":0.6644},
{"n":462,"o":0.6696,"h":0.6700,"l":0.6660,"c":0.6664},
{"n":463,"o":0.6646,"h":0.6650,"l":0.6570,"c":0.6574},
{"n":464,"o":0.6585,"h":0.6590,"l":0.6525,"c":0.6530},
{"n":465,"o":0.6534,"h":0.6580,"l":0.6530,"c":0.6576},
{"n":466,"o":0.6564,"h":0.6600,"l":0.6560,"c":0.6596},
{"n":467,"o":0.6564,"h":0.6600,"l":0.6560,"c":0.6596},
{"n":468,"o":0.6615,"h":0.6620,"l":0.6560,"c":0.6565},
{"n":469,"o":0.6606,"h":0.6610,"l":0.6560,"c":0.6564},
{"n":470,"o":0.6554,"h":0.6590,"l":0.6550,"c":0.6586},
{"n":471,"o":0.6564,"h":0.6600,"l":0.6560,"c":0.6596},
{"n":472,"o":0.6574,"h":0.6610,"l":0.6570,"c":0.6606},
{"n":473,"o":0.6584,"h":0.6620,"l":0.6580,"c":0.6616},
{"n":474,"o":0.6615,"h":0.6620,"l":0.6560,"c":0.6565},
{"n":475,"o":0.6576,"h":0.6580,"l":0.6540,"c":0.6544},
{"n":476,"o":0.6604,"h":0.6610,"l":0.6520,"c":0.6526},
{"n":477,"o":0.6516,"h":0.6520,"l":0.6470,"c":0.6474},
{"n":478,"o":0.6475,"h":0.6530,"l":0.6470,"c":0.6526},
{"n":479,"o":0.6484,"h":0.6530,"l":0.6480,"c":0.6526},
{"n":480,"o":0.6494,"h":0.6530,"l":0.6490,"c":0.6526},
{"n":481,"o":0.6504,"h":0.6540,"l":0.6500,"c":0.6536},
{"n":482,"o":0.6536,"h":0.6540,"l":0.6510,"c":0.6514},
{"n":483,"o":0.6506,"h":0.6510,"l":0.6442,"c":0.6446},
{"n":484,"o":0.6447,"h":0.6500,"l":0.6442,"c":0.6495},
{"n":485,"o":0.6474,"h":0.6520,"l":0.6470,"c":0.6516},
{"n":486,"o":0.6485,"h":0.6540,"l":0.6480,"c":0.6536},
{"n":487,"o":0.6534,"h":0.6560,"l":0.6530,"c":0.6556},
{"n":488,"o":0.6534,"h":0.6580,"l":0.6530,"c":0.6576},
{"n":489,"o":0.6554,"h":0.6590,"l":0.6550,"c":0.6586},
{"n":490,"o":0.6590,"h":0.6596,"l":0.6540,"c":0.6545},
{"n":491,"o":0.6576,"h":0.6580,"l":0.6540,"c":0.6544},
{"n":492,"o":0.6544,"h":0.6590,"l":0.6540,"c":0.6586},
{"n":493,"o":0.6566,"h":0.6570,"l":0.6530,"c":0.6534},
{"n":494,"o":0.6540,"h":0.6545,"l":0.6490,"c":0.6495},
{"n":495,"o":0.6516,"h":0.6520,"l":0.6478,"c":0.6482},
{"n":496,"o":0.6484,"h":0.6530,"l":0.6480,"c":0.6526},
{"n":497,"o":0.6494,"h":0.6520,"l":0.6490,"c":0.6516},
{"n":498,"o":0.6516,"h":0.6520,"l":0.6478,"c":0.6482},
{"n":499,"o":0.6514,"h":0.6590,"l":0.6510,"c":0.6586},
{"n":500,"o":0.6585,"h":0.6667,"l":0.6580,"c":0.6660},
{"n":501,"o":0.6636,"h":0.6640,"l":0.6600,"c":0.6604},
{"n":502,"o":0.6612,"h":0.6615,"l":0.6585,"c":0.6588},
{"n":503,"o":0.6606,"h":0.6610,"l":0.6580,"c":0.6584},
{"n":504,"o":0.6584,"h":0.6610,"l":0.6580,"c":0.6606},
{"n":505,"o":0.6606,"h":0.6610,"l":0.6570,"c":0.6574},
{"n":506,"o":0.6585,"h":0.6590,"l":0.6540,"c":0.6545},
{"n":507,"o":0.6546,"h":0.6550,"l":0.6510,"c":0.6514},
{"n":508,"o":0.6575,"h":0.6580,"l":0.6503,"c":0.6508},
{"n":509,"o":0.6514,"h":0.6560,"l":0.6510,"c":0.6556},
{"n":510,"o":0.6546,"h":0.6634,"l":0.6540,"c":0.6628},
{"n":511,"o":0.6616,"h":0.6620,"l":0.6560,"c":0.6564},
{"n":512,"o":0.6556,"h":0.6560,"l":0.6520,"c":0.6524},
{"n":513,"o":0.6536,"h":0.6540,"l":0.6510,"c":0.6514},
{"n":514,"o":0.6504,"h":0.6540,"l":0.6500,"c":0.6536},
{"n":515,"o":0.6514,"h":0.6540,"l":0.6510,"c":0.6536},
{"n":516,"o":0.6527,"h":0.6530,"l":0.6510,"c":0.6513},
{"n":517,"o":0.6526,"h":0.6530,"l":0.6490,"c":0.6494},
{"n":518,"o":0.6484,"h":0.6515,"l":0.6480,"c":0.6511},
{"n":519,"o":0.6494,"h":0.6560,"l":0.6490,"c":0.6556},
{"n":520,"o":0.6615,"h":0.6620,"l":0.6560,"c":0.6565},
{"n":521,"o":0.6596,"h":0.6600,"l":0.6560,"c":0.6564},
{"n":522,"o":0.6574,"h":0.6620,"l":0.6570,"c":0.6616},
{"n":523,"o":0.6584,"h":0.6620,"l":0.6580,"c":0.6616},
{"n":524,"o":0.6638,"h":0.6644,"l":0.6520,"c":0.6526},
{"n":525,"o":0.6526,"h":0.6530,"l":0.6480,"c":0.6484},
{"n":526,"o":0.6545,"h":0.6550,"l":0.6460,"c":0.6466},
{"n":527,"o":0.6466,"h":0.6470,"l":0.6410,"c":0.6414},
{"n":528,"o":0.6426,"h":0.6430,"l":0.6390,"c":0.6394},
{"n":529,"o":0.6406,"h":0.6410,"l":0.6364,"c":0.6368},
{"n":530,"o":0.6368,"h":0.6430,"l":0.6362,"c":0.6425},
{"n":531,"o":0.6399,"h":0.6450,"l":0.6395,"c":0.6446},
{"n":532,"o":0.6444,"h":0.6470,"l":0.6440,"c":0.6466},
{"n":533,"o":0.6444,"h":0.6480,"l":0.6440,"c":0.6476},
{"n":534,"o":0.6484,"h":0.6530,"l":0.6480,"c":0.6526},
{"n":535,"o":0.6536,"h":0.6540,"l":0.6510,"c":0.6514},
{"n":536,"o":0.6524,"h":0.6560,"l":0.6520,"c":0.6556},
{"n":537,"o":0.6534,"h":0.6580,"l":0.6530,"c":0.6576},
{"n":538,"o":0.6575,"h":0.6580,"l":0.6480,"c":0.6486},
{"n":539,"o":0.6526,"h":0.6530,"l":0.6470,"c":0.6474},
{"n":540,"o":0.6514,"h":0.6570,"l":0.6510,"c":0.6566},
{"n":541,"o":0.6544,"h":0.6590,"l":0.6540,"c":0.6586},
{"n":542,"o":0.6594,"h":0.6640,"l":0.6590,"c":0.6636},
{"n":543,"o":0.6626,"h":0.6630,"l":0.6600,"c":0.6604},
{"n":544,"o":0.6606,"h":0.6610,"l":0.6570,"c":0.6574},
{"n":545,"o":0.6584,"h":0.6620,"l":0.6580,"c":0.6616},
{"n":546,"o":0.6594,"h":0.6625,"l":0.6590,"c":0.6621},
{"n":547,"o":0.6606,"h":0.6610,"l":0.6580,"c":0.6584},
{"n":548,"o":0.6594,"h":0.6630,"l":0.6590,"c":0.6626},
{"n":549,"o":0.6634,"h":0.6700,"l":0.6630,"c":0.6696},
{"n":550,"o":0.6708,"h":0.6714,"l":0.6660,"c":0.6665},
{"n":551,"o":0.6706,"h":0.6710,"l":0.6660,"c":0.6664},
{"n":552,"o":0.6686,"h":0.6690,"l":0.6650,"c":0.6654},
{"n":553,"o":0.6676,"h":0.6680,"l":0.6640,"c":0.6644},
{"n":554,"o":0.6656,"h":0.6660,"l":0.6610,"c":0.6614},
{"n":555,"o":0.6616,"h":0.6620,"l":0.6590,"c":0.6594},
{"n":556,"o":0.6594,"h":0.6630,"l":0.6590,"c":0.6626},
{"n":557,"o":0.6614,"h":0.6650,"l":0.6610,"c":0.6646},
{"n":558,"o":0.6644,"h":0.6680,"l":0.6640,"c":0.6676},
{"n":559,"o":0.6666,"h":0.6670,"l":0.6620,"c":0.6624},
{"n":560,"o":0.6594,"h":0.6630,"l":0.6590,"c":0.6626},
{"n":561,"o":0.6604,"h":0.6650,"l":0.6600,"c":0.6646},
{"n":562,"o":0.6644,"h":0.6680,"l":0.6640,"c":0.6676},
{"n":563,"o":0.6666,"h":0.6670,"l":0.6630,"c":0.6634},
{"n":564,"o":0.6624,"h":0.6660,"l":0.6620,"c":0.6656},
{"n":565,"o":0.6654,"h":0.6700,"l":0.6650,"c":0.6696},
{"n":566,"o":0.6695,"h":0.6700,"l":0.6590,"c":0.6596},
{"n":567,"o":0.6636,"h":0.6640,"l":0.6580,"c":0.6584},
{"n":568,"o":0.6616,"h":0.6620,"l":0.6575,"c":0.6580},
{"n":569,"o":0.6594,"h":0.6640,"l":0.6590,"c":0.6636},
{"n":570,"o":0.6665,"h":0.6670,"l":0.6610,"c":0.6615},
{"n":571,"o":0.6626,"h":0.6630,"l":0.6580,"c":0.6584},
{"n":572,"o":0.6594,"h":0.6640,"l":0.6590,"c":0.6636},
{"n":573,"o":0.6634,"h":0.6670,"l":0.6630,"c":0.6666},
{"n":574,"o":0.6676,"h":0.6680,"l":0.6650,"c":0.6654},
{"n":575,"o":0.6676,"h":0.6680,"l":0.6640,"c":0.6644},
{"n":576,"o":0.6666,"h":0.6670,"l":0.6640,"c":0.6644},
{"n":577,"o":0.6634,"h":0.6660,"l":0.6630,"c":0.6656},
{"n":578,"o":0.6644,"h":0.6680,"l":0.6640,"c":0.6676},
{"n":579,"o":0.6654,"h":0.6690,"l":0.6650,"c":0.6686},
{"n":580,"o":0.6634,"h":0.6660,"l":0.6630,"c":0.6656},
{"n":581,"o":0.6666,"h":0.6670,"l":0.6630,"c":0.6634},
{"n":582,"o":0.6676,"h":0.6680,"l":0.6640,"c":0.6644},
{"n":583,"o":0.6654,"h":0.6690,"l":0.6650,"c":0.6686},
{"n":584,"o":0.6654,"h":0.6710,"l":0.6650,"c":0.6706},
{"n":585,"o":0.6694,"h":0.6730,"l":0.6690,"c":0.6726},
{"n":586,"o":0.6714,"h":0.6750,"l":0.6710,"c":0.6746},
{"n":587,"o":0.6724,"h":0.6760,"l":0.6720,"c":0.6756},
{"n":588,"o":0.6746,"h":0.6750,"l":0.6710,"c":0.6714},
{"n":589,"o":0.6724,"h":0.6770,"l":0.6720,"c":0.6766},
{"n":590,"o":0.6794,"h":0.6799,"l":0.6740,"c":0.6745},
{"n":591,"o":0.6786,"h":0.6790,"l":0.6750,"c":0.6754},
{"n":592,"o":0.6766,"h":0.6770,"l":0.6720,"c":0.6724},
{"n":593,"o":0.6756,"h":0.6760,"l":0.6710,"c":0.6714},
{"n":594,"o":0.6755,"h":0.6760,"l":0.6700,"c":0.6705},
{"n":595,"o":0.6736,"h":0.6740,"l":0.6690,"c":0.6694},
{"n":596,"o":0.6716,"h":0.6720,"l":0.6680,"c":0.6684},
{"n":597,"o":0.6696,"h":0.6700,"l":0.6650,"c":0.6654},
{"n":598,"o":0.6646,"h":0.6650,"l":0.6600,"c":0.6604},
{"n":599,"o":0.6616,"h":0.6620,"l":0.6570,"c":0.6574},
{"n":600,"o":0.6576,"h":0.6580,"l":0.6540,"c":0.6544},
{"n":601,"o":0.6576,"h":0.6580,"l":0.6520,"c":0.6524},
{"n":602,"o":0.6556,"h":0.6560,"l":0.6520,"c":0.6524},
{"n":603,"o":0.6524,"h":0.6560,"l":0.6520,"c":0.6556},
{"n":604,"o":0.6515,"h":0.6580,"l":0.6510,"c":0.6575},
{"n":605,"o":0.6556,"h":0.6560,"l":0.6470,"c":0.6474},
{"n":606,"o":0.6530,"h":0.6540,"l":0.6348,"c":0.6490},
{"n":607,"o":0.6476,"h":0.6560,"l":0.6470,"c":0.6556},
{"n":608,"o":0.6505,"h":0.6580,"l":0.6500,"c":0.6575},
{"n":609,"o":0.6524,"h":0.6570,"l":0.6520,"c":0.6566},
{"n":610,"o":0.6544,"h":0.6580,"l":0.6540,"c":0.6576},
{"n":611,"o":0.6564,"h":0.6600,"l":0.6560,"c":0.6596},
{"n":612,"o":0.6574,"h":0.6630,"l":0.6570,"c":0.6626},
{"n":613,"o":0.6614,"h":0.6680,"l":0.6610,"c":0.6676},
{"n":614,"o":0.6646,"h":0.6650,"l":0.6600,"c":0.6604},
{"n":615,"o":0.6634,"h":0.6700,"l":0.6630,"c":0.6696},
{"n":616,"o":0.6704,"h":0.6740,"l":0.6700,"c":0.6736},
{"n":617,"o":0.6714,"h":0.6750,"l":0.6710,"c":0.6746},
{"n":618,"o":0.6714,"h":0.6760,"l":0.6710,"c":0.6756},
{"n":619,"o":0.6766,"h":0.6770,"l":0.6720,"c":0.6724},
{"n":620,"o":0.6706,"h":0.6790,"l":0.6700,"c":0.6785},
{"n":621,"o":0.6764,"h":0.6800,"l":0.6760,"c":0.6796},
{"n":622,"o":0.6796,"h":0.6800,"l":0.6760,"c":0.6764},
{"n":623,"o":0.6774,"h":0.6810,"l":0.6770,"c":0.6806},
{"n":624,"o":0.6818,"h":0.6824,"l":0.6770,"c":0.6775},
{"n":625,"o":0.6806,"h":0.6810,"l":0.6760,"c":0.6764},
{"n":626,"o":0.6786,"h":0.6790,"l":0.6760,"c":0.6764},
{"n":627,"o":0.6766,"h":0.6770,"l":0.6700,"c":0.6704},
{"n":628,"o":0.6704,"h":0.6740,"l":0.6700,"c":0.6736},
{"n":629,"o":0.6726,"h":0.6730,"l":0.6690,"c":0.6694},
{"n":630,"o":0.6765,"h":0.6770,"l":0.6660,"c":0.6666},
{"n":631,"o":0.6706,"h":0.6710,"l":0.6660,"c":0.6664},
{"n":632,"o":0.6686,"h":0.6690,"l":0.6650,"c":0.6654},
{"n":633,"o":0.6626,"h":0.6700,"l":0.6622,"c":0.6696},
{"n":634,"o":0.6664,"h":0.6700,"l":0.6660,"c":0.6696},
{"n":635,"o":0.6684,"h":0.6720,"l":0.6680,"c":0.6716},
{"n":636,"o":0.6734,"h":0.6760,"l":0.6730,"c":0.6756},
{"n":637,"o":0.6744,"h":0.6790,"l":0.6740,"c":0.6786},
{"n":638,"o":0.6786,"h":0.6790,"l":0.6740,"c":0.6744},
{"n":639,"o":0.6764,"h":0.6800,"l":0.6760,"c":0.6796},
{"n":640,"o":0.6784,"h":0.6820,"l":0.6780,"c":0.6816},
{"n":641,"o":0.6804,"h":0.6850,"l":0.6800,"c":0.6846},
{"n":642,"o":0.6824,"h":0.6880,"l":0.6820,"c":0.6876},
{"n":643,"o":0.6864,"h":0.6900,"l":0.6860,"c":0.6896},
{"n":644,"o":0.6884,"h":0.6935,"l":0.6880,"c":0.6930},
{"n":645,"o":0.6904,"h":0.6940,"l":0.6900,"c":0.6936},
{"n":646,"o":0.6938,"h":0.6942,"l":0.6900,"c":0.6904},
{"n":647,"o":0.6916,"h":0.6920,"l":0.6870,"c":0.6874},
{"n":648,"o":0.6896,"h":0.6900,"l":0.6860,"c":0.6864},
{"n":649,"o":0.6866,"h":0.6870,"l":0.6810,"c":0.6814},
{"n":650,"o":0.6875,"h":0.6880,"l":0.6810,"c":0.6815},
{"n":651,"o":0.6816,"h":0.6820,"l":0.6770,"c":0.6774},
{"n":652,"o":0.6776,"h":0.6780,"l":0.6730,"c":0.6734},
{"n":653,"o":0.6756,"h":0.6760,"l":0.6720,"c":0.6724},
{"n":654,"o":0.6736,"h":0.6740,"l":0.6700,"c":0.6704},
{"n":655,"o":0.6714,"h":0.6760,"l":0.6710,"c":0.6756},
{"n":656,"o":0.6746,"h":0.6750,"l":0.6710,"c":0.6714},
{"n":657,"o":0.6726,"h":0.6730,"l":0.6690,"c":0.6694},
{"n":658,"o":0.6716,"h":0.6720,"l":0.6680,"c":0.6684},
{"n":659,"o":0.6706,"h":0.6710,"l":0.6670,"c":0.6674},
{"n":660,"o":0.6684,"h":0.6720,"l":0.6680,"c":0.6716},
{"n":661,"o":0.6696,"h":0.6700,"l":0.6660,"c":0.6664},
{"n":662,"o":0.6686,"h":0.6690,"l":0.6650,"c":0.6654},
{"n":663,"o":0.6646,"h":0.6650,"l":0.6600,"c":0.6604},
{"n":664,"o":0.6594,"h":0.6640,"l":0.6590,"c":0.6636},
{"n":665,"o":0.6626,"h":0.6630,"l":0.6580,"c":0.6584},
{"n":666,"o":0.6611,"h":0.6615,"l":0.6580,"c":0.6584},
{"n":667,"o":0.6596,"h":0.6600,"l":0.6560,"c":0.6564},
{"n":668,"o":0.6586,"h":0.6590,"l":0.6540,"c":0.6544},
{"n":669,"o":0.6566,"h":0.6570,"l":0.6530,"c":0.6534},
{"n":670,"o":0.6518,"h":0.6580,"l":0.6512,"c":0.6575},
{"n":671,"o":0.6564,"h":0.6620,"l":0.6560,"c":0.6616},
{"n":672,"o":0.6575,"h":0.6650,"l":0.6570,"c":0.6645},
{"n":673,"o":0.6626,"h":0.6630,"l":0.6512,"c":0.6518},
{"n":674,"o":0.6566,"h":0.6688,"l":0.6560,"c":0.6682},
{"n":675,"o":0.6676,"h":0.6680,"l":0.6610,"c":0.6614},
{"n":676,"o":0.6615,"h":0.6620,"l":0.6560,"c":0.6565},
{"n":677,"o":0.6566,"h":0.6570,"l":0.6500,"c":0.6504},
{"n":678,"o":0.6525,"h":0.6530,"l":0.6470,"c":0.6475},
{"n":679,"o":0.6496,"h":0.6500,"l":0.6440,"c":0.6444},
{"n":680,"o":0.6444,"h":0.6480,"l":0.6440,"c":0.6476},
{"n":681,"o":0.6464,"h":0.6510,"l":0.6460,"c":0.6506},
{"n":682,"o":0.6484,"h":0.6530,"l":0.6480,"c":0.6526},
{"n":683,"o":0.6526,"h":0.6530,"l":0.6490,"c":0.6494},
{"n":684,"o":0.6494,"h":0.6530,"l":0.6490,"c":0.6526},
{"n":685,"o":0.6536,"h":0.6540,"l":0.6490,"c":0.6494},
{"n":686,"o":0.6545,"h":0.6550,"l":0.6490,"c":0.6495},
{"n":687,"o":0.6484,"h":0.6540,"l":0.6480,"c":0.6536},
{"n":688,"o":0.6484,"h":0.6520,"l":0.6480,"c":0.6516},
{"n":689,"o":0.6516,"h":0.6520,"l":0.6480,"c":0.6484},
{"n":690,"o":0.6526,"h":0.6530,"l":0.6480,"c":0.6484},
{"n":691,"o":0.6486,"h":0.6490,"l":0.6440,"c":0.6444},
{"n":692,"o":0.6476,"h":0.6480,"l":0.6430,"c":0.6434},
{"n":693,"o":0.6436,"h":0.6440,"l":0.6400,"c":0.6404},
{"n":694,"o":0.6426,"h":0.6430,"l":0.6390,"c":0.6394},
{"n":695,"o":0.6404,"h":0.6450,"l":0.6400,"c":0.6446},
{"n":696,"o":0.6446,"h":0.6450,"l":0.6390,"c":0.6394},
{"n":697,"o":0.6406,"h":0.6410,"l":0.6370,"c":0.6374},
{"n":698,"o":0.6386,"h":0.6390,"l":0.6360,"c":0.6364},
{"n":699,"o":0.6366,"h":0.6370,"l":0.6340,"c":0.6344},
{"n":700,"o":0.6344,"h":0.6380,"l":0.6340,"c":0.6376},
{"n":701,"o":0.6366,"h":0.6370,"l":0.6330,"c":0.6334},
{"n":702,"o":0.6365,"h":0.6370,"l":0.6276,"c":0.6282},
{"n":703,"o":0.6345,"h":0.6350,"l":0.6220,"c":0.6226},
{"n":704,"o":0.6270,"h":0.6276,"l":0.6180,"c":0.6190},
{"n":705,"o":0.6226,"h":0.6230,"l":0.6190,"c":0.6194},
{"n":706,"o":0.6208,"h":0.6276,"l":0.6202,"c":0.6270},
{"n":707,"o":0.6256,"h":0.6260,"l":0.6220,"c":0.6224},
{"n":708,"o":0.6252,"h":0.6255,"l":0.6223,"c":0.6226},
{"n":709,"o":0.6218,"h":0.6250,"l":0.6215,"c":0.6246},
{"n":710,"o":0.6228,"h":0.6232,"l":0.6179,"c":0.6184},
{"n":711,"o":0.6206,"h":0.6210,"l":0.6178,"c":0.6182},
{"n":712,"o":0.6226,"h":0.6230,"l":0.6185,"c":0.6190},
{"n":713,"o":0.6198,"h":0.6240,"l":0.6195,"c":0.6236},
{"n":714,"o":0.6195,"h":0.6260,"l":0.6190,"c":0.6255},
{"n":715,"o":0.6244,"h":0.6300,"l":0.6240,"c":0.6296},
{"n":716,"o":0.6298,"h":0.6305,"l":0.6226,"c":0.6232},
{"n":717,"o":0.6256,"h":0.6260,"l":0.6180,"c":0.6184},
{"n":718,"o":0.6222,"h":0.6226,"l":0.6162,"c":0.6166},
{"n":719,"o":0.6176,"h":0.6180,"l":0.6140,"c":0.6144},
{"n":720,"o":0.6138,"h":0.6208,"l":0.6132,"c":0.6202},
{"n":721,"o":0.6154,"h":0.6210,"l":0.6150,"c":0.6206},
{"n":722,"o":0.6184,"h":0.6230,"l":0.6180,"c":0.6226},
{"n":723,"o":0.6194,"h":0.6240,"l":0.6190,"c":0.6236},
{"n":724,"o":0.6222,"h":0.6226,"l":0.6165,"c":0.6170},
{"n":725,"o":0.6184,"h":0.6250,"l":0.6180,"c":0.6246},
{"n":726,"o":0.6208,"h":0.6290,"l":0.6203,"c":0.6285},
{"n":727,"o":0.6244,"h":0.6300,"l":0.6240,"c":0.6296},
{"n":728,"o":0.6242,"h":0.6299,"l":0.6237,"c":0.6294},
{"n":729,"o":0.6264,"h":0.6330,"l":0.6260,"c":0.6326},
{"n":730,"o":0.6278,"h":0.6333,"l":0.6273,"c":0.6328},
{"n":731,"o":0.6296,"h":0.6300,"l":0.6240,"c":0.6244},
{"n":732,"o":0.6260,"h":0.6264,"l":0.6211,"c":0.6215},
{"n":733,"o":0.61993,"h":0.62627,"l":0.61988,"c":0.62084}
],
"levels":[
{"kind":"bid","p":0.62084},
{"kind":"support","p":0.61973}
],
"notes":[
{"kind":"info","n":1.5,"p":0.77247,"label":"▼ AUDUSD,Daily 0.61993 0.62627 0.61988 0.62084"},
{"kind":"title","n":216,"p":0.75309,"label":"AUDUSD: Daily Timeframe"},
{"kind":"site","n":218.5,"p":0.73992,"label":"forexgdp.com"},
{"kind":"support","n":490.5,"p":0.61120,"label":"Support area"}
],
"tags":[
{"kind":"bid","n":933.25,"n2":933.25,"p":0.62084,"p1":0.62160,"p2":0.62010,"label":"0.62084"},
{"kind":"support","n":933.25,"n2":933.25,"p":0.61997,"p1":0.62073,"p2":0.61921,"label":"0.61973"}
]
},
"layer":[
{"data":{"name":"bars"},
 "mark":{"type":"rule","strokeWidth":1.5},
 "encoding":{
  "x":{"field":"n","type":"quantitative","scale":{"domain":[-0.75,933.25],"nice":false,"zero":false},
       "axis":{"values":[0,32,64,96,128,160,192,224,256,288,320,352,384,416,448,480,512,544,576,608,640,672,704],
               "labelExpr":"['5 Apr 2022','19 May 2022','4 Jul 2022','17 Aug 2022','30 Sep 2022','15 Nov 2022','30 Dec 2022','14 Feb 2023','30 Mar 2023','15 May 2023','28 Jun 2023','11 Aug 2023','26 Sep 2023','9 Nov 2023','26 Dec 2023','9 Feb 2024','26 Mar 2024','9 May 2024','24 Jun 2024','7 Aug 2024','20 Sep 2024','5 Nov 2024','19 Dec 2024'][round(datum.value/32)]",
               "labelAlign":"left","labelBaseline":"top","tickSize":4,"labelPadding":2,"labelOffset":1,"labelOverlap":false,"labelFlush":false,"labelBound":false}},
  "y":{"field":"l","type":"quantitative","scale":{"domain":[0.60944,0.77423],"nice":false,"zero":false},
       "axis":{"orient":"right","values":[0.77165,0.7658,0.7601,0.75425,0.7484,0.7427,0.73685,0.73115,0.7253,0.7196,0.71375,0.7079,0.7022,0.69635,0.69065,0.6848,0.6791,0.67325,0.6674,0.6617,0.65585,0.65015,0.6443,0.6386,0.63275,0.62705,0.61535,0.60965],
               "format":".5f","tickSize":3,"labelPadding":3,"labelOverlap":false,"labelFlush":false,"labelBound":false}},
  "y2":{"field":"h"},
  "stroke":{"condition":[{"test":"datum.c > datum.o","value":"#0000CD"},{"test":"datum.c < datum.o","value":"#FF0000"}],"value":"#000000"}
 }},
{"data":{"name":"levels"},"transform":[{"filter":"datum.kind === 'bid'"}],
 "mark":{"type":"rule","stroke":"#778899","strokeWidth":1},
 "encoding":{"y":{"field":"p","type":"quantitative","axis":null}}},
{"data":{"name":"levels"},"transform":[{"filter":"datum.kind === 'support'"}],
 "mark":{"type":"rule","stroke":"#000000","strokeWidth":3},
 "encoding":{"y":{"field":"p","type":"quantitative","axis":null}}},
{"data":{"name":"tags"},"transform":[{"filter":"datum.kind === 'bid'"}],
 "mark":{"type":"text","font":"Liberation Sans","fontSize":9.5,"fill":"#000000","align":"left","baseline":"middle","dx":5},
 "encoding":{"x":{"field":"n","type":"quantitative","axis":null},"y":{"field":"p","type":"quantitative","axis":null},"text":{"field":"label"}}},
{"data":{"name":"tags"},"transform":[{"filter":"datum.kind === 'support'"}],
 "mark":{"type":"rect","fill":"#000000","xOffset":1,"x2Offset":46},
 "encoding":{"x":{"field":"n","type":"quantitative","axis":null},"x2":{"field":"n2"},"y":{"field":"p1","type":"quantitative","axis":null},"y2":{"field":"p2"}}},
{"data":{"name":"tags"},"transform":[{"filter":"datum.kind === 'support'"}],
 "mark":{"type":"text","font":"Liberation Sans","fontSize":9.5,"fill":"#FFFFFF","align":"left","baseline":"middle","dx":5},
 "encoding":{"x":{"field":"n","type":"quantitative","axis":null},"y":{"field":"p","type":"quantitative","axis":null},"text":{"field":"label"}}},
{"data":{"name":"notes"},"transform":[{"filter":"datum.kind === 'info'"}],
 "mark":{"type":"text","font":"Liberation Sans","fontSize":9.5,"fill":"#000000","align":"left","baseline":"middle"},
 "encoding":{"x":{"field":"n","type":"quantitative","axis":null},"y":{"field":"p","type":"quantitative","axis":null},"text":{"field":"label"}}},
{"data":{"name":"notes"},"transform":[{"filter":"datum.kind === 'title'"}],
 "mark":{"type":"text","font":"Lato","fontWeight":"bold","fontSize":52,"fill":"#808080","align":"center","baseline":"alphabetic"},
 "encoding":{"x":{"field":"n","type":"quantitative","axis":null},"y":{"field":"p","type":"quantitative","axis":null},"text":{"field":"label"}}},
{"data":{"name":"notes"},"transform":[{"filter":"datum.kind === 'site'"}],
 "mark":{"type":"text","font":"Lato","fontWeight":"bold","fontSize":48,"fill":"#808080","align":"center","baseline":"alphabetic"},
 "encoding":{"x":{"field":"n","type":"quantitative","axis":null},"y":{"field":"p","type":"quantitative","axis":null},"text":{"field":"label"}}},
{"data":{"name":"notes"},"transform":[{"filter":"datum.kind === 'support'"}],
 "mark":{"type":"text","font":"Lato","fontWeight":"bold","fontSize":52.5,"fill":"#000000","align":"center","baseline":"alphabetic"},
 "encoding":{"x":{"field":"n","type":"quantitative","axis":null},"y":{"field":"p","type":"quantitative","axis":null},"text":{"field":"label"}}}
]
}
